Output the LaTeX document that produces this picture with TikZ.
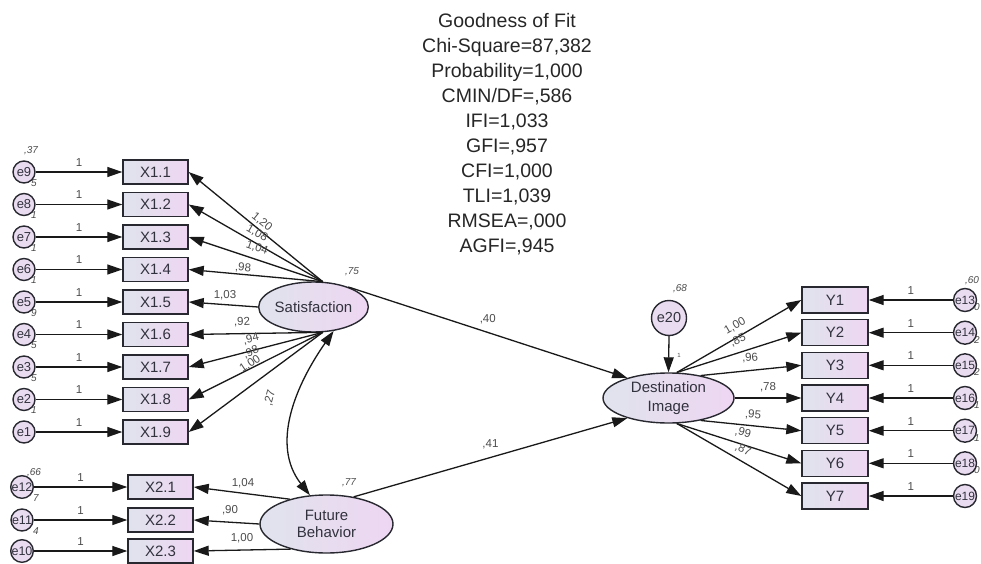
\documentclass[tikz,border=0pt]{standalone}
\usepackage{fontspec}
\setmainfont{Liberation Sans}
\usetikzlibrary{arrows.meta,shapes.geometric,calc}
\definecolor{boxL}{RGB}{224,227,237}
\definecolor{boxR}{RGB}{238,214,242}
\definecolor{circ}{RGB}{234,220,240}
\definecolor{edge}{RGB}{40,40,48}
\definecolor{txt}{RGB}{50,50,62}
\definecolor{lab}{RGB}{75,75,75}
\begin{document}
\begin{tikzpicture}[x=1pt,y=-1pt,
 obs/.style={draw=edge,line width=1.4pt,left color=boxL,right color=boxR,minimum width=65pt,minimum height=24pt,inner sep=0pt,font=\fontsize{15}{15}\selectfont,text=txt},
 lat/.style={ellipse,draw=edge,line width=1.4pt,left color=boxL,right color=boxR,inner sep=0pt,font=\fontsize{15}{17}\selectfont,text=txt,align=center},
 err/.style={circle,draw=edge,line width=1.4pt,fill=circ,minimum size=22pt,inner sep=0pt,font=\fontsize{13}{13}\selectfont,text=txt},
 arr/.style={draw=black!90,line width=1.3pt,-{Triangle[length=15pt,width=10pt]}},
 coef/.style={font=\fontsize{11.5}{11.5}\selectfont,text=lab,inner sep=0pt},
 frag/.style={font=\fontsize{10}{10}\selectfont\itshape,text=lab,inner sep=0pt},
 fitstyle/.style={font=\fontsize{19.5}{25}\selectfont,text=black!85,align=center}
]
\useasboundingbox (0,0) rectangle (981,564);
\clip (0,0) rectangle (981,564);

% goodness of fit
\node[fitstyle] (gof) at (507,134.5) {Goodness of Fit\\Chi-Square=87,382\\Probability=1,000\\CMIN/DF=,586\\IFI=1,033\\GFI=,957\\CFI=1,000\\TLI=1,039\\RMSEA=,000\\AGFI=,945};

% latent variables
\node[lat,minimum width=107pt,minimum height=50pt] (sat) at (313.5,307) {Satisfaction};
\node[lat,minimum width=133pt,minimum height=58pt] (fb) at (326.5,524) {Future\\Behavior};
\node[lat,minimum width=131pt,minimum height=50pt,font=\fontsize{15}{19}\selectfont] (di) at (668.5,398) {Destination\\Image};
\node[err,minimum size=35pt,font=\fontsize{14.5}{14.5}\selectfont] (e20) at (669,318) {e20};

% left indicators X1
\foreach \i/\j/\y/\f in {9/1/172/5,8/2/204.5/1,7/3/237/1,6/4/269.5/1,5/5/302/9,4/6/334.5/5,3/7/367/5,2/8/399.5/1,1/9/432/{}}{
  \node[obs] (x1\j) at (155.5,\y) {X1.\j};
  \node[frag] at (34,\y+11) {\f};
  \node[err] (e\i) at (24,\y) {e\i};
  \draw[arr] (e\i) -- (x1\j) node[coef,midway,above=5pt] {1};
}
\node[frag] at (31,151) {,37};

% left indicators X2
\foreach \i/\j/\y/\f in {12/1/487/7,11/2/520/4,10/3/551/{}}{
  \node[obs] (x2\j) at (160.5,\y) {X2.\j};
  \node[frag] at (36,\y+11) {\f};
  \node[err,font=\fontsize{12.5}{12.5}\selectfont] (e\i) at (22,\y) {e\i};
  \draw[arr] (e\i) -- (x2\j) node[coef,midway,above=5pt] {1};
}
\node[frag] at (34,473) {,66};

% right indicators Y
\foreach \i/\j/\y/\f in {13/1/300/0,14/2/332.7/2,15/3/365.3/2,16/4/398/1,17/5/430.7/1,18/6/463.3/0,19/7/496/{}}{
  \node[obs,minimum width=66pt,minimum height=26pt] (y\j) at (835,\y) {Y\j};
  \node[frag] at (977,\y+7) {\f};
  \node[err,minimum size=23pt,font=\fontsize{12}{12}\selectfont] (e\i) at (965,\y) {e\i};
  \draw[arr] (e\i) -- (y\j) node[coef,midway,above=5pt] {1};
}
\node[frag] at (972,281) {,60};

% satisfaction loadings
\draw[arr] (sat.70) -- (x11.east);
\draw[arr] (sat.70) -- (x12.east);
\draw[arr] (sat.70) -- (x13.east);
\draw[arr] (sat.70) -- (x14.east);
\draw[arr] (sat.west) -- (x15.east);
\draw[arr] (sat.-70) -- (x16.east);
\draw[arr] (sat.-70) -- (x17.east);
\draw[arr] (sat.-70) -- (x18.east);
\draw[arr] (sat.-70) -- (x19.east);
\node[coef,rotate=-39] at (262,222) {1,20};
\node[coef,rotate=-30] at (257,233) {1,08};
\node[coef,rotate=-19] at (257,248) {1,04};
\node[coef,rotate=-5] at (243,268) {,98};
\node[coef] at (225,295) {1,03};
\node[coef,rotate=3] at (242,322) {,92};
\node[coef,rotate=14] at (251,339) {,94};
\node[coef,rotate=25] at (251,352) {,98};
\node[coef,rotate=34] at (250,364) {1,00};
\node[frag] at (352,272) {,75};

% future behavior loadings
\draw[arr] (fb.146) -- (x21.east);
\draw[arr] (fb.west) -- (x22.east);
\draw[arr] (fb.-145) -- (x23.east);
\node[coef] at (243,483) {1,04};
\node[coef] at (230,510) {,90};
\node[coef] at (242,538) {1,00};
\node[frag] at (349,483) {,77};

% covariance
\draw[line width=1.3pt,draw=black!90,{Triangle[length=15pt,width=10pt]}-{Triangle[length=15pt,width=10pt]}] (sat.-50) to[out=235,in=128] (fb.120);
\node[coef,rotate=75] at (270,398) {,27};

% structural paths
\draw[arr] (sat.30) -- (di.154) node[coef,pos=0.5,above=8pt] {,40};
\draw[arr] (fb.45) -- (di.-154) node[coef,pos=0.5,above=8pt] {,41};
\draw[arr] (e20.south) -- (di.north);
\node[font=\fontsize{6}{6}\selectfont,text=lab] at (679,355) {1};
\node[frag] at (680,289) {,68};

% destination image loadings
\draw[arr] (di.72) -- (y1.west);
\draw[arr] (di.72) -- (y2.west);
\draw[arr] (di.35) -- (y3.west);
\draw[arr] (di.east) -- (y4.west);
\draw[arr] (di.-35) -- (y5.west);
\draw[arr] (di.-72) -- (y6.west);
\draw[arr] (di.-72) -- (y7.west);
\node[coef,rotate=30] at (735,326) {1,00};
\node[coef,rotate=25] at (738,340) {,85};
\node[coef,rotate=5] at (750,358) {,96};
\node[coef] at (768,387) {,78};
\node[coef,rotate=-5] at (753,415) {,95};
\node[coef,rotate=-15] at (743,433) {,99};
\node[coef,rotate=-25] at (743,450) {,87};
\end{tikzpicture}
\end{document}
